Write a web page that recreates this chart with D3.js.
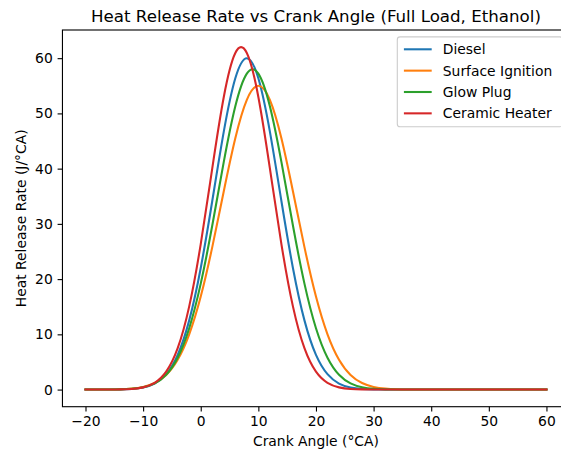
<!DOCTYPE html>
<html>
<head>
<meta charset="utf-8">
<script src="https://cdn.jsdelivr.net/npm/d3@7"></script>
<style>
  body { margin: 0; background: #fff; }
  svg { display: block; overflow: hidden; }
  text { font-family: 'DejaVu Sans', sans-serif; fill: #000; }
</style>
</head>
<body>
<svg id="chart" width="561" height="455"></svg>
<script>
// crank angle samples (deg CA)
var crankAngle = [
  -20, -18, -16, -14, -12, -10, -8, -6, -4, -2,
  0, 2, 4, 6, 8, 10, 12, 14, 16, 18,
  20, 22, 24, 26, 28, 30, 32, 34, 36, 38,
  40, 42, 44, 46, 48, 50, 52, 54, 56, 58, 60
];

// heat release rate, J/deg CA
var diesel = [
  0, 0, 0.01, 0.03, 0.11, 0.37, 1.09, 2.79, 6.29, 12.53,
  22.02, 34.14, 46.70, 56.36, 60.00, 56.36, 46.70, 34.14, 22.02, 12.53,
  6.29, 2.79, 1.09, 0.37, 0.11, 0.03, 0.01, 0, 0, 0,
  0, 0, 0, 0, 0, 0, 0, 0, 0, 0, 0
];
var surfaceIgnition = [
  0, 0.01, 0.02, 0.06, 0.18, 0.48, 1.19, 2.66, 5.41, 10.01,
  16.84, 25.79, 35.92, 45.51, 52.46, 55.00, 52.46, 45.51, 35.92, 25.79,
  16.84, 10.01, 5.41, 2.66, 1.19, 0.48, 0.18, 0.06, 0.02, 0.01,
  0, 0, 0, 0, 0, 0, 0, 0, 0, 0, 0
];
var glowPlug = [
  0, 0, 0.01, 0.04, 0.14, 0.42, 1.12, 2.68, 5.77, 11.11,
  19.18, 29.70, 41.22, 51.29, 57.21, 57.21, 51.29, 41.22, 29.70, 19.18,
  11.11, 5.77, 2.68, 1.12, 0.42, 0.14, 0.04, 0.01, 0, 0,
  0, 0, 0, 0, 0, 0, 0, 0, 0, 0, 0
];
var ceramicHeater = [
  0, 0, 0.01, 0.03, 0.11, 0.40, 1.22, 3.24, 7.49, 15.06,
  26.34, 40.06, 52.98, 60.93, 60.93, 52.98, 40.06, 26.34, 15.06, 7.49,
  3.24, 1.22, 0.40, 0.11, 0.03, 0.01, 0, 0, 0, 0,
  0, 0, 0, 0, 0, 0, 0, 0, 0, 0, 0
];

var seriesNames = ['Diesel', 'Surface Ignition', 'Glow Plug', 'Ceramic Heater'];
var seriesValues = [diesel, surfaceIgnition, glowPlug, ceramicHeater];
var seriesColors = ['#1f77b4', '#ff7f0e', '#2ca02c', '#d62728'];

var xTicks = [-20, -10, 0, 10, 20, 30, 40, 50, 60];
var yTicks = [0, 10, 20, 30, 40, 50, 60];

var plot = { left: 62.45, right: 569.5, top: 30, bottom: 406.7 };
var fontSize = 13.89;

var svg = d3.select('#chart');

var x = d3.scaleLinear().domain([-24, 64]).range([plot.left, plot.right]);
var y = d3.scaleLinear().domain([-3.1, 65.1]).range([plot.bottom, plot.top]);

var line = d3
  .line()
  .x(function(d) { return x(d[0]); })
  .y(function(d) { return y(d[1]); })
  .curve(d3.curveNatural);

seriesValues.forEach(function(vals, i) {
  var pts = crankAngle.map(function(a, j) { return [a, vals[j]]; });
  svg
    .append('path')
    .datum(pts)
    .attr('fill', 'none')
    .attr('stroke', seriesColors[i])
    .attr('stroke-width', 2.08)
    .attr('stroke-linejoin', 'round')
    .attr('stroke-linecap', 'square')
    .attr('d', line);
});

// axes
var xAxis = d3
  .axisBottom(x)
  .tickValues(xTicks)
  .tickSize(4.86)
  .tickPadding(4.2)
  .tickFormat(d3.format('d'));
var yAxis = d3
  .axisLeft(y)
  .tickValues(yTicks)
  .tickSize(4.86)
  .tickPadding(4.86)
  .tickFormat(d3.format('d'));

var gx = svg
  .append('g')
  .attr('transform', 'translate(0,' + plot.bottom + ')')
  .call(xAxis);
var gy = svg
  .append('g')
  .attr('transform', 'translate(' + plot.left + ',0)')
  .call(yAxis);

[gx, gy].forEach(function(g) {
  g.select('.domain').remove();
  g.selectAll('.tick line').attr('stroke', '#000').attr('stroke-width', 1.11);
  g.selectAll('.tick text')
    .attr('fill', '#000')
    .style('font-size', fontSize + 'px')
    .style('font-family', "'DejaVu Sans', sans-serif");
});

// spines
svg
  .append('rect')
  .attr('x', plot.left)
  .attr('y', plot.top)
  .attr('width', plot.right - plot.left)
  .attr('height', plot.bottom - plot.top)
  .attr('fill', 'none')
  .attr('stroke', '#000')
  .attr('stroke-width', 1.11);

// title and axis labels
svg
  .append('text')
  .attr('x', (plot.left + plot.right) / 2)
  .attr('y', 21.7)
  .attr('text-anchor', 'middle')
  .style('font-size', '16.67px')
  .text('Heat Release Rate vs Crank Angle (Full Load, Ethanol)');

svg
  .append('text')
  .attr('x', (plot.left + plot.right) / 2)
  .attr('y', 446)
  .attr('text-anchor', 'middle')
  .style('font-size', fontSize + 'px')
  .text('Crank Angle (°CA)');

svg
  .append('text')
  .attr('transform', 'translate(26,' + (plot.top + plot.bottom) / 2 + ') rotate(-90)')
  .attr('text-anchor', 'middle')
  .style('font-size', fontSize + 'px')
  .text('Heat Release Rate (J/°CA)');

// legend
var legend = svg.append('g');
legend
  .append('rect')
  .attr('x', 397.3)
  .attr('y', 36.9)
  .attr('width', 165.3)
  .attr('height', 89.8)
  .attr('rx', 2.8)
  .attr('fill', '#fff')
  .attr('fill-opacity', 0.8)
  .attr('stroke', '#cccccc')
  .attr('stroke-width', 1.11);

seriesNames.forEach(function(name, i) {
  var rowY = 49.3 + i * 21.35;
  legend
    .append('line')
    .attr('x1', 403.9)
    .attr('x2', 431.7)
    .attr('y1', rowY)
    .attr('y2', rowY)
    .attr('stroke', seriesColors[i])
    .attr('stroke-width', 2.08);
  legend
    .append('text')
    .attr('x', 442.8)
    .attr('y', rowY + 5)
    .style('font-size', fontSize + 'px')
    .text(name);
});
</script>
</body>
</html>
